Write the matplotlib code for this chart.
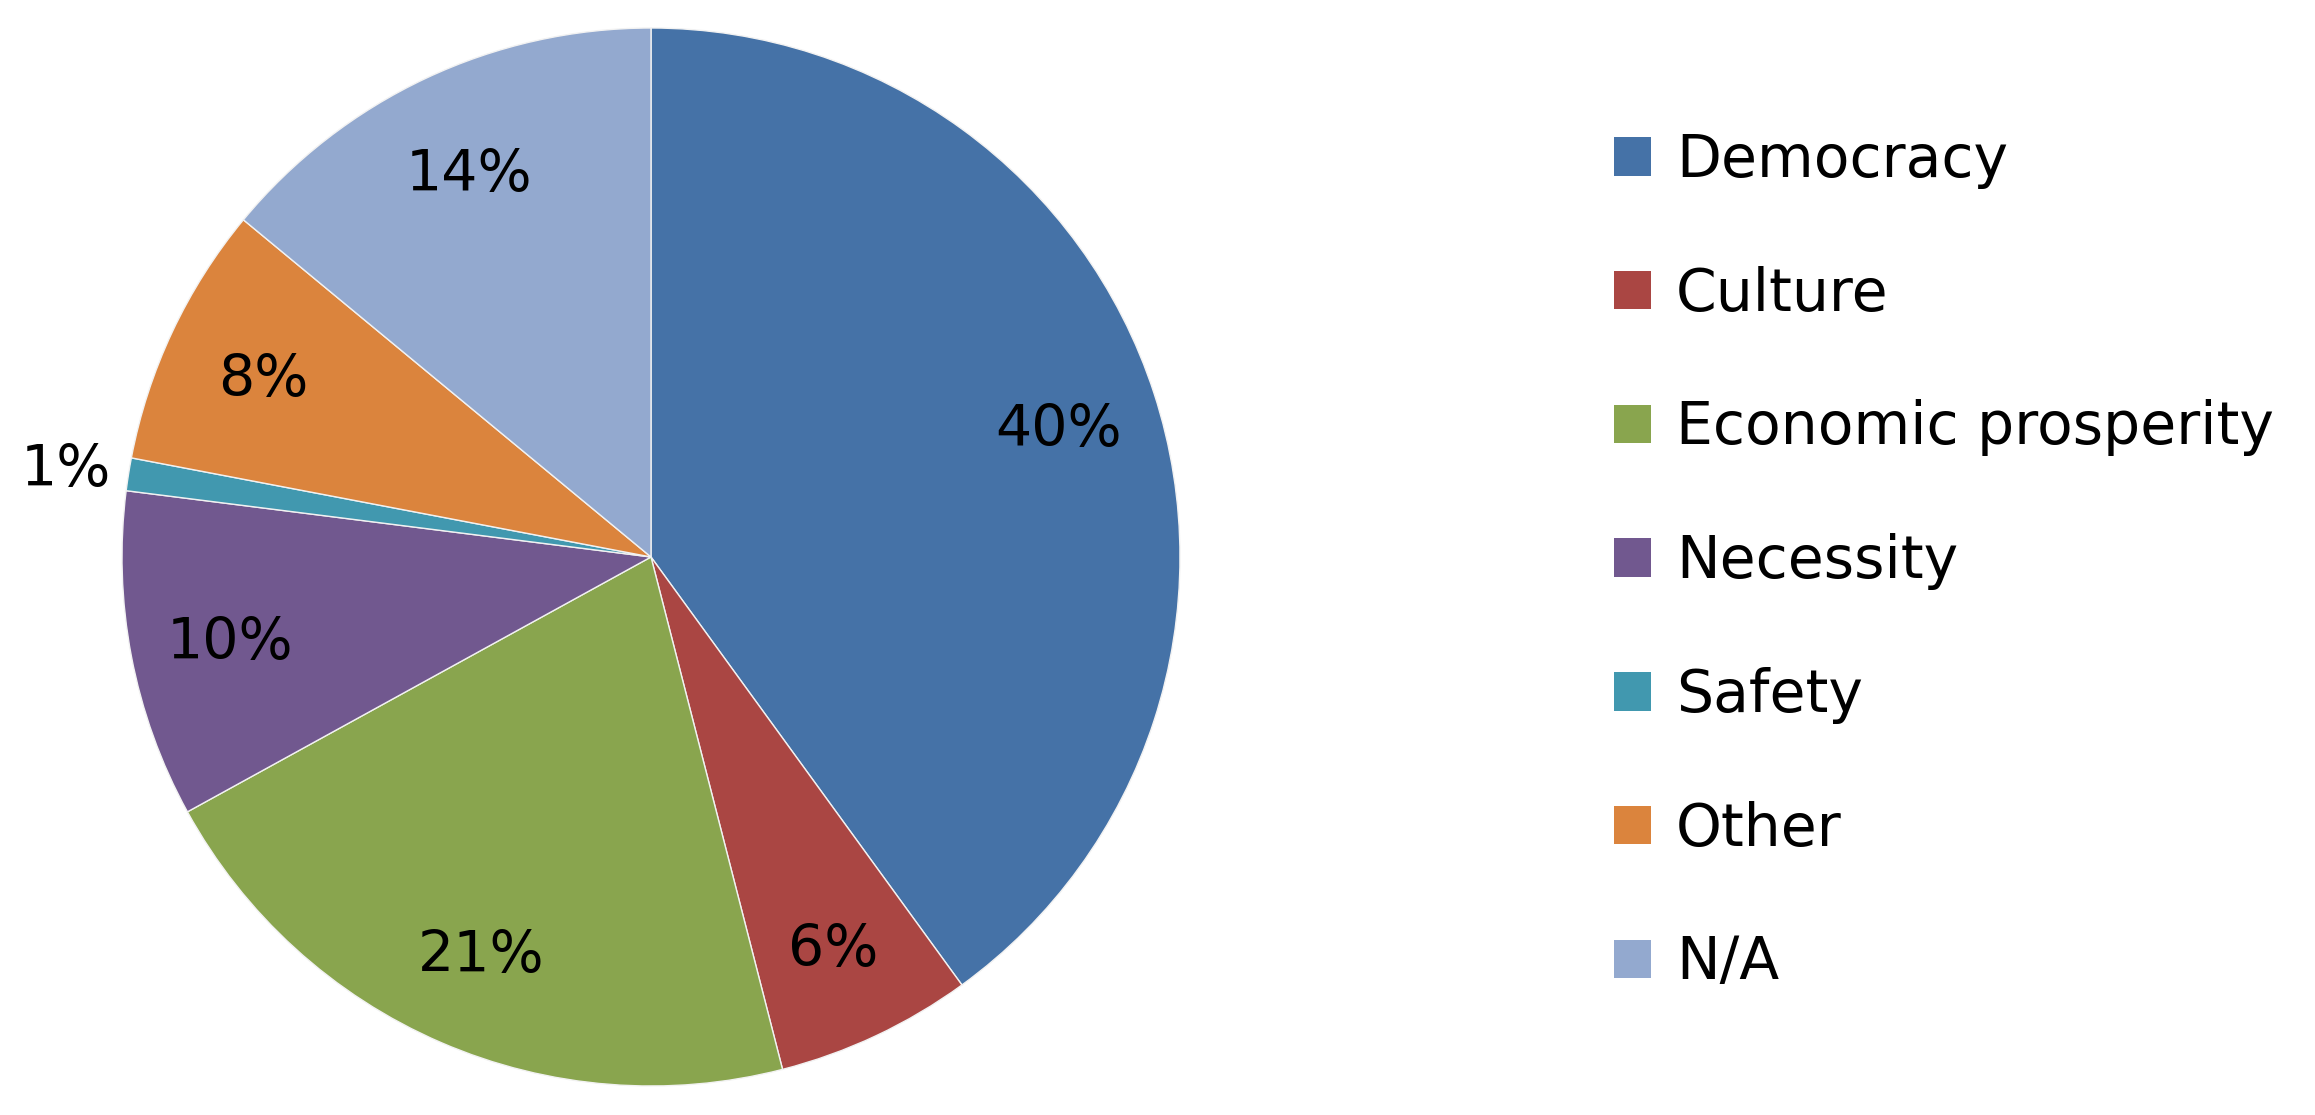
import matplotlib
matplotlib.use("Agg")
import matplotlib.pyplot as plt
import numpy as np

categories = ["Democracy", "Culture", "Economic prosperity", "Necessity", "Safety", "Other", "N/A"]
values = [40, 6, 21, 10, 1, 8, 14]
colors = ["#4572A7", "#AA4643", "#89A54E", "#71588F", "#4198AF", "#DB843D", "#93A9CF"]

W, H = 2315, 1115
fig = plt.figure(figsize=(W / 100, H / 100), dpi=100)
cx, cy, r = 651, 557, 529
ax = fig.add_axes([(cx - r) / W, (H - cy - r) / H, 2 * r / W, 2 * r / H])

wedges, texts, autotexts = ax.pie(
    values, colors=colors, startangle=90, counterclock=False,
    autopct=lambda p: f"{p:.0f}%", pctdistance=0.81,
    wedgeprops=dict(edgecolor="#f2f2f2", linewidth=1.0),
    textprops=dict(fontsize=41, color="black"))
ax.set_xlim(-1, 1)
ax.set_ylim(-1, 1)
ax.set_aspect("equal")

for w, t, v in zip(wedges, autotexts, values):
    t.set_verticalalignment("center_baseline")
    if v < 3:
        ang = np.deg2rad((w.theta1 + w.theta2) / 2)
        t.set_position((1.12 * np.cos(ang), 1.12 * np.sin(ang)))

fs = 42
leg = fig.legend(wedges, categories, loc="upper left",
                 bbox_to_anchor=(1614 / W, 1 - 132 / H),
                 frameon=False, fontsize=fs, borderpad=0, borderaxespad=0,
                 handlelength=0.635, handleheight=0.635, handletextpad=0.43,
                 labelspacing=1.315)
for h in leg.legend_handles:
    h.set_edgecolor("none")

fig.savefig("out.png", dpi=100)
